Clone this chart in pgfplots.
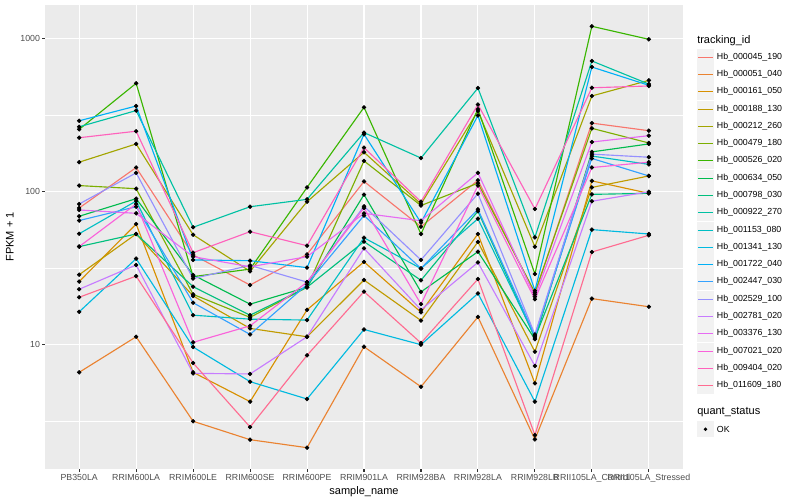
\documentclass[border=0pt]{standalone}
\usepackage{fontspec}
\setmainfont{Liberation Sans}
\usepackage{pgfplots}
\usepackage{pgfplotstable}
\pgfplotsset{compat=1.18}

% ggplot hue palette, 20 levels
\definecolor{c1}{HTML}{F8766D}
\definecolor{c2}{HTML}{EA8331}
\definecolor{c3}{HTML}{D89000}
\definecolor{c4}{HTML}{C09B00}
\definecolor{c5}{HTML}{A3A500}
\definecolor{c6}{HTML}{7CAE00}
\definecolor{c7}{HTML}{39B600}
\definecolor{c8}{HTML}{00BB4E}
\definecolor{c9}{HTML}{00BF7D}
\definecolor{c10}{HTML}{00C1A3}
\definecolor{c11}{HTML}{00BFC4}
\definecolor{c12}{HTML}{00BAE0}
\definecolor{c13}{HTML}{00B0F6}
\definecolor{c14}{HTML}{35A2FF}
\definecolor{c15}{HTML}{9590FF}
\definecolor{c16}{HTML}{C77CFF}
\definecolor{c17}{HTML}{E76BF3}
\definecolor{c18}{HTML}{FA62DB}
\definecolor{c19}{HTML}{FF62BC}
\definecolor{c20}{HTML}{FF6C91}
\definecolor{panelbg}{HTML}{EBEBEB}
\definecolor{keybg}{HTML}{F2F2F2}
\definecolor{gray30}{HTML}{4D4D4D}
\definecolor{gray20}{HTML}{333333}

% FPKM + 1, one row per sample, one column per tracking_id
\pgfplotstableread{
x  s1   s2    s3    s4    s5   s6   s7    s8    s9    s10  s11   s12   s13  s14   s15   s16   s17   s18   s19   s20
0  77.8 6.56  25.7  28.5  155  109  254   68.7  43.5  264  52.8  16.3  289  64.4  82.6  22.9  75.5  43.5  224   20.3
1  143  11.2  61.1  52.6  204  104  508   89.5  52.6  337  86.4  36.3  361  79.3  132   33.0  71.8  82.6  247   27.9
2  38.4 3.14  6.56  20.7  52.0 21.2 27.7  28.4  23.8  58.2 15.5  9.6   35.6 18.7  26.9  6.46  37.4  10.3  39.7  7.55
3  24.4 2.38  4.22  12.7  30.0 15.0 31.0  18.3  15.5  79.3 14.6  5.70  35.2 11.6  32.8  6.40  32.1  13.2  54.5  2.88
4  38.7 2.11  16.8  11.2  85.5 23.6 106   23.6  23.6  88.6 14.4  4.39  31.7 24.6  25.5  11.2  37.4  25.5  44.1  8.47
5  116  9.64  34.6  26.3  180  158  354   95.1  46.9  242  49.7  12.5  236  69.5  79.8  42.4  71.8  77.8  193   22.1
6  58.7 5.28  16.2  14.3  82.6 80.7 52.6  22.0  26.2  165  31.3  9.94  62.4 31.3  35.6  16.8  64.2  18.3  85.5  10.2
7  118  15.1  52.6  46.7  335  113  344   40.3  74.1  473  66.2  21.5  313  76.3  96.5  34.3  132   109   369   26.7
8  21.2 2.39  5.56  8.95  43.4 21.8 28.8  10.8  11.0  50.0 11.2  4.22  22.4 11.4  11.6  7.22  20.5  19.7  76.6  2.55
9  279  19.9  117   106   420  258  1198  181   95.5  711  170   56.2  649  164   175   86.1  210   143   475   40.1
10 249  17.6  97    126   531  207  985   204   97    502  150   52.6  493  126   167   99.3  231   155   488   51.6
}\fpkm

\begin{document}
\begin{tikzpicture}
\path[use as bounding box] (0,0) rectangle (600pt,375pt);

\begin{axis}[
  at={(33.75pt,23.25pt)}, anchor=south west,
  scale only axis, width=478.5pt, height=348pt,
  xmin=-0.6, xmax=10.6,
  ymode=log, ymin=1.531, ymax=1651,
  axis background/.style={fill=panelbg},
  axis line style={draw=none},
  xtick={0,...,10},
  xticklabels={PB350LA,RRIM600LA,RRIM600LE,RRIM600SE,RRIM600PE,RRIM901LA,RRIM928BA,RRIM928LA,RRIM928LB,RRII105LA\_Control,RRII105LA\_Stressed},
  ytick={10,100,1000}, yticklabels={10,100,1000},
  minor ytick={3.1623,31.623,316.23},
  grid=both,
  major grid style={white, line width=0.8pt},
  minor grid style={white, line width=0.4pt},
  tick pos=lower, tick align=outside,
  major tick length=2.06pt, minor tick length=0pt,
  tick style={gray20, line width=0.8pt},
  ticklabel style={font=\fontsize{6.6}{8}\selectfont, text=gray30, inner sep=1.5pt},
  /pgf/number format/assume math mode=true,
  xlabel={sample\_name}, ylabel={FPKM + 1},
  label style={font=\fontsize{8.25}{10}\selectfont},
  every axis x label/.append style={yshift=2pt},
]
\pgfplotsinvokeforeach{1,...,20}{
  \addplot[c#1, line width=0.85pt] table[x=x, y=s#1] {\fpkm};
}
\pgfplotsinvokeforeach{1,...,20}{
  \addplot[only marks, mark=*, mark size=1.45pt, black] table[x=x, y=s#1] {\fpkm};
}
\end{axis}

% legends, in pixel coordinates from the top left corner
\begin{scope}[x=0.75pt, y=-0.75pt, shift={(0pt,375pt)}]
\node[anchor=west, inner sep=0, font=\fontsize{8.25}{10}\selectfont] at (697,40.7) {tracking\_id};
\foreach \nm [count=\k] in {Hb\_000045\_190,Hb\_000051\_040,Hb\_000161\_050,Hb\_000188\_130,Hb\_000212\_260,Hb\_000479\_180,Hb\_000526\_020,Hb\_000634\_050,Hb\_000798\_030,Hb\_000922\_270,Hb\_001153\_080,Hb\_001341\_130,Hb\_001722\_040,Hb\_002447\_030,Hb\_002529\_100,Hb\_002781\_020,Hb\_003376\_130,Hb\_007021\_020,Hb\_009404\_020,Hb\_011609\_180}{
  \pgfmathsetmacro\yy{floor(57.3+17.28*(\k-1))+0.5}
  \fill[keybg] (697,\yy-8.2) rectangle (714,\yy+8.2);
  \draw[draw=c\k, line width=1pt] (698,\yy) -- (713,\yy);
  \node[anchor=west, inner sep=0, font=\fontsize{6.6}{8}\selectfont] at (716.7,\yy) {\nm};
}
\node[anchor=west, inner sep=0, font=\fontsize{8.25}{10}\selectfont] at (697,412.3) {quant\_status};
\fill[keybg] (697,421.1) rectangle (714,437.5);
\fill[black] (705.5,429.3) circle (1.9);
\node[anchor=west, inner sep=0, font=\fontsize{6.6}{8}\selectfont] at (716.7,429.3) {OK};
\end{scope}
\end{tikzpicture}
\end{document}
